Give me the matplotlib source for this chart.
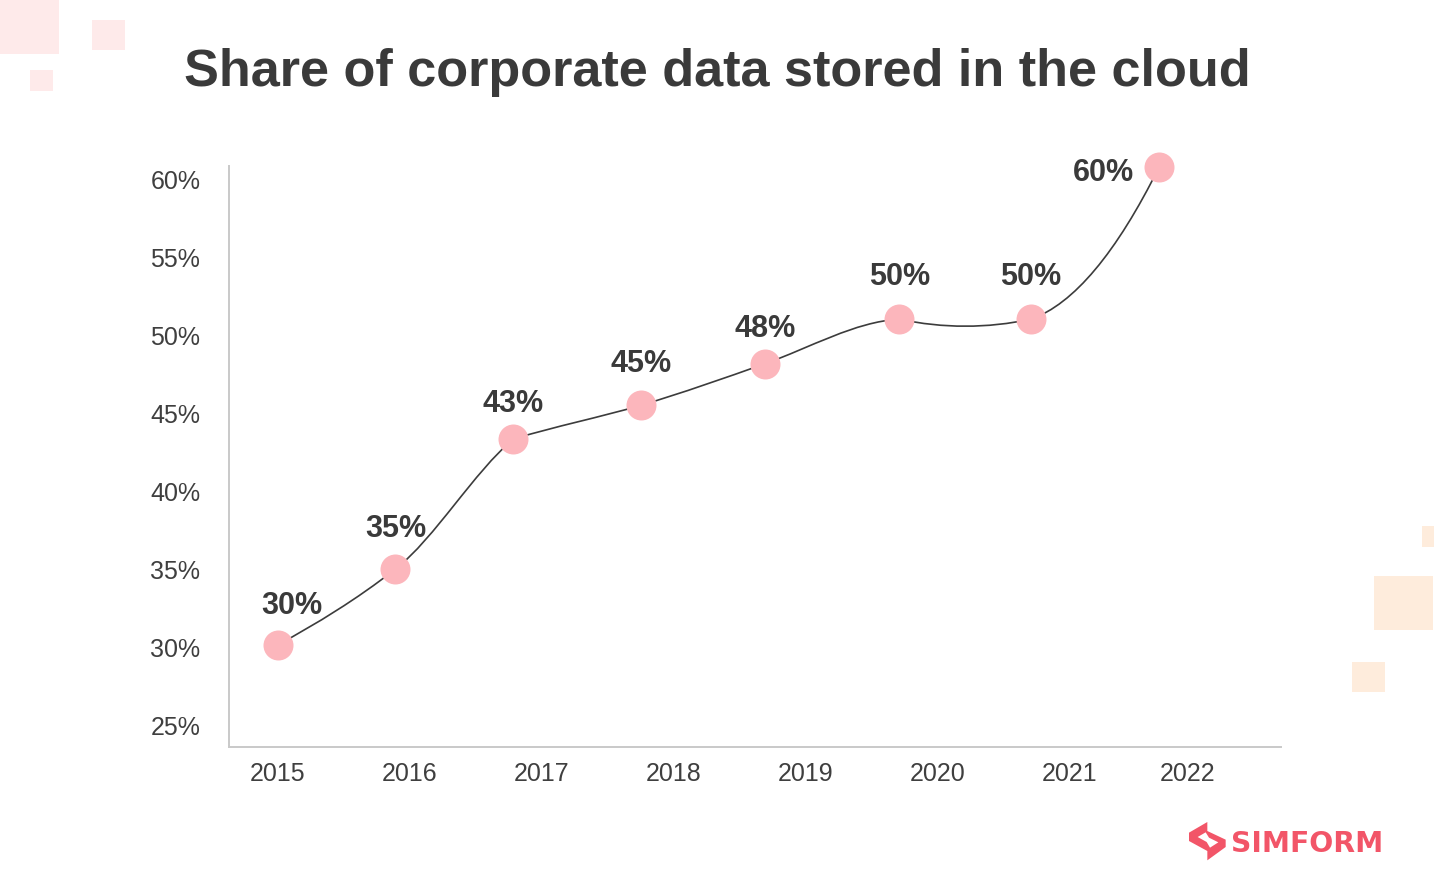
import matplotlib
matplotlib.use("Agg")
import matplotlib.pyplot as plt
from matplotlib.patches import Rectangle, Polygon, PathPatch
from matplotlib.path import Path

plt.rcParams['font.family'] = ['Liberation Sans', 'DejaVu Sans']

# data
years = [2015, 2015.894, 2016.788, 2017.758, 2018.697, 2019.712, 2020.712, 2021.682]
shares = [30.16, 35.03, 43.36, 45.54, 48.2, 51.05, 51.05, 60.8]
point_labels = ['30%', '35%', '43%', '45%', '48%', '50%', '50%', '60%']

tick_pos = [2015, 2016, 2017, 2018, 2019, 2020, 2021, 2021.9]
tick_labels = ['2015', '2016', '2017', '2018', '2019', '2020', '2021', '2022']
y_ticks = [25, 30, 35, 40, 45, 50, 55, 60]

# curve shape, slope leaving / arriving at each point
slopes_out = [4.6, 6.6, 2.6, 2.5, 3.0, -1.8, 3.0]
slopes_in = [6.2, 6.6, 7.0, 2.5, 3.0, 0.5, 1.8, 17.0]
# label offsets in points
label_dx = [10, 0, 0, 0, 0, 0, 0, -18]
label_dy = [28, 29, 25, 29.5, 25, 30.5, 30.5, -4.5]

W, H = 1434, 888
fig = plt.figure(figsize=(W / 100, H / 100), dpi=100)

# pixel coords (top left origin) -> figure fraction
def add_box(x0, y0, x1, y1, color):
    fig.patches.append(Rectangle((x0 / W, 1 - y1 / H), (x1 - x0) / W, (y1 - y0) / H,
                                 transform=fig.transFigure, color=color, lw=0))

for b in [(0, 0, 59, 54), (92, 20, 125, 50), (30, 70, 53, 91)]:
    add_box(*b, '#feeaea')
for b in [(1422, 526, 1434, 547), (1374, 576, 1433, 630), (1352, 662, 1385, 692)]:
    add_box(*b, '#feecdc')

ax = fig.add_axes([229.5 / W, 1 - 747 / H, (1281 - 229.5) / W, (747 - 166) / H])
ax.set_xlim(2014.636, 2022.606)
ax.set_ylim(23.62, 60.87)

# smooth line through the points, as bezier segments
verts = [(years[0], shares[0])]
codes = [Path.MOVETO]
for i in range(len(years) - 1):
    dx = (years[i + 1] - years[i]) / 3
    verts.append((years[i] + dx, shares[i] + slopes_out[i] * dx))
    verts.append((years[i + 1] - dx, shares[i + 1] - slopes_in[i + 1] * dx))
    verts.append((years[i + 1], shares[i + 1]))
    codes += [Path.CURVE4] * 3
ax.add_patch(PathPatch(Path(verts, codes), fc='none', ec='#3c3c3c', lw=1.2, zorder=2))

ax.plot(years, shares, ls='none', marker='o', ms=21.6, mfc='#fcb6bc', mec='none',
        zorder=3, clip_on=False)

for i, lab in enumerate(point_labels):
    ax.annotate(lab, (years[i], shares[i]), xytext=(label_dx[i], label_dy[i]),
                textcoords='offset points', ha='right' if i == 7 else 'center', va='center',
                fontsize=22, fontweight='bold', color='#3a3a3a', zorder=4)

ax.set_xticks(tick_pos)
ax.set_xticklabels(tick_labels)
ax.set_yticks(y_ticks)
ax.set_yticklabels([f'{v}%' for v in y_ticks])
ax.tick_params(axis='both', length=0, labelsize=18, labelcolor='#3f3f3f')
ax.tick_params(axis='x', pad=10.5)
ax.tick_params(axis='y', pad=21)
ax.spines['top'].set_visible(False)
ax.spines['right'].set_visible(False)
for s in ['left', 'bottom']:
    ax.spines[s].set_color('#c9c9c9')
    ax.spines[s].set_linewidth(1.4)

fig.text(717.5 / W, 1 - 72 / H, 'Share of corporate data stored in the cloud',
         ha='center', va='center', fontsize=37.6, fontweight='bold', color='#3a3a3a')

def px(pts):
    return [((1185 + x / 3) / W, 1 - (817 + y / 3) / H) for x, y in pts]

logo_outer = [(12, 47), (67, 15), (67, 42), (122, 68), (122, 90), (67, 130), (67, 102), (12, 72)]
logo_hole = [(38, 60), (62, 46), (72, 62), (100, 76), (75, 92), (65, 75)]
fig.patches.append(Polygon(px(logo_outer), closed=True, transform=fig.transFigure,
                           fc='#f25568', ec='none'))
fig.patches.append(Polygon(px(logo_hole), closed=True, transform=fig.transFigure,
                           fc='white', ec='none'))
fig.text(1231 / W, 1 - 852 / H, 'SIMFORM', ha='left', va='baseline', fontsize=20.3,
         family='DejaVu Sans', fontweight='bold', color='#f25568')

fig.savefig('out.png', dpi=100, facecolor='white')
